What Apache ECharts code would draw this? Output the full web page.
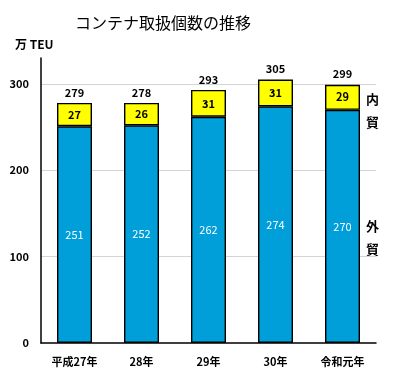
<!DOCTYPE html>
<html><head><meta charset="utf-8">
<script src="https://cdn.jsdelivr.net/npm/echarts@6/dist/echarts.min.js"></script>
<style>html,body{margin:0;padding:0;background:#fff}#c{width:400px;height:378px}</style>
</head><body><div id="c"></div>
<script>
const categories = ['平成27年', '28年', '29年', '30年', '令和元年'];
const foreignTrade = [251, 252, 262, 274, 270];
const domesticTrade = [27, 26, 31, 31, 29];
const totals = [279, 278, 293, 305, 299];
const gridValues = [100, 200, 300];

const FONT = '"Noto Sans CJK JP", "Noto Sans", sans-serif';
const chart = echarts.init(document.getElementById('c'), null, {renderer: 'canvas'});
chart.setOption({
  animation: false,
  textStyle: {fontFamily: FONT},
  title: {
    text: 'コンテナ取扱個数の推移',
    left: 70, top: 10,
    textStyle: {fontFamily: FONT, fontSize: 16, fontWeight: 'normal', color: '#000'}
  },
  grid: {left: 41, right: 24, top: 58, bottom: 35, containLabel: false},
  xAxis: {
    type: 'category',
    data: categories,
    axisLine: {lineStyle: {color: '#000', width: 1.5}},
    axisTick: {show: false},
    axisLabel: {color: '#000', fontWeight: 'bold', fontSize: 11, margin: 13, fontFamily: FONT}
  },
  yAxis: {
    type: 'value',
    min: 0, max: 330, interval: 100,
    name: '万 TEU',
    nameLocation: 'end',
    nameGap: 8,
    nameTextStyle: {color: '#000', fontWeight: 'bold', fontSize: 12, align: 'left', padding: [0, 0, 0, -26], fontFamily: FONT},
    axisLine: {show: true, lineStyle: {color: '#000', width: 1.5}},
    axisTick: {show: false},
    splitLine: {show: false},
    axisLabel: {color: '#000', fontWeight: 'bold', fontSize: 11, margin: 12, showMaxLabel: false, fontFamily: FONT}
  },
  graphic: [
    {type: 'text', left: 366, top: 88, style: {text: '内\n貿', font: 'bold 13px ' + FONT, fill: '#000', lineHeight: 23}},
    {type: 'text', left: 366, top: 215, style: {text: '外\n貿', font: 'bold 13px ' + FONT, fill: '#000', lineHeight: 23}}
  ],
  series: [
    {
      type: 'line', data: [], z: 0, silent: true,
      markLine: {
        z: 0, silent: true, symbol: 'none', label: {show: false},
        lineStyle: {color: '#d4d4d4', width: 1, type: 'solid'},
        data: gridValues.map(v => ({yAxis: v}))
      }
    },
    {
      name: '外貿', type: 'bar', stack: 's', barWidth: 35, z: 3,
      data: foreignTrade,
      itemStyle: {color: '#009FDA', borderColor: '#000', borderWidth: 1.4},
      label: {show: true, position: 'inside', color: '#fff', fontSize: 11, fontFamily: FONT}
    },
    {
      name: '内貿', type: 'bar', stack: 's', barWidth: 35, z: 3,
      data: domesticTrade,
      itemStyle: {color: '#FFFF00', borderColor: '#000', borderWidth: 1.4},
      label: {show: true, position: 'inside', color: '#000', fontWeight: 'bold', fontSize: 11, fontFamily: FONT}
    },
    {
      name: '合計', type: 'bar', stack: 's', barWidth: 35, z: 3,
      data: totals.map(() => 0),
      itemStyle: {color: 'rgba(0,0,0,0)', borderWidth: 0},
      label: {show: true, position: 'top', distance: 5, color: '#000', fontWeight: 'bold', fontSize: 11, fontFamily: FONT,
        formatter: p => String(totals[p.dataIndex])}
    }
  ]
});
</script></body></html>
